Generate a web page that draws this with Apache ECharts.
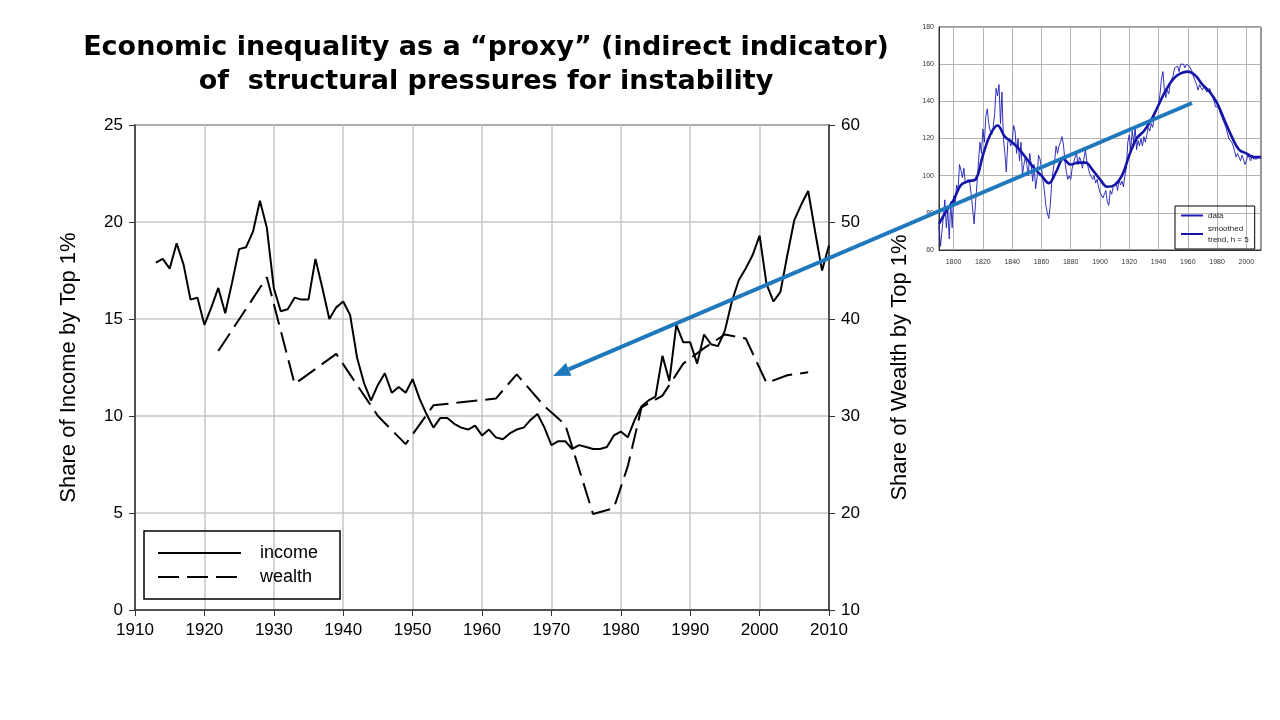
<!DOCTYPE html>
<html>
<head>
<meta charset="utf-8">
<title>Economic inequality</title>
<script src="https://cdn.jsdelivr.net/npm/echarts@6/dist/echarts.min.js"></script>
<style>
  html, body { margin: 0; padding: 0; background: #fff; }
  #chart { width: 1280px; height: 720px; }
</style>
</head>
<body>
<div id="chart"></div>
<script>
// main chart: share of income / wealth held by top 1%
const incomeYears = [
  1913, 1914, 1915, 1916, 1917, 1918, 1919, 1920, 1921, 1922, 1923, 1924, 1925, 1926, 1927, 1928, 1929,
  1930, 1931, 1932, 1933, 1934, 1935, 1936, 1937, 1938, 1939, 1940, 1941, 1942, 1943, 1944, 1945, 1946,
  1947, 1948, 1949, 1950, 1951, 1952, 1953, 1954, 1955, 1956, 1957, 1958, 1959, 1960, 1961, 1962, 1963,
  1964, 1965, 1966, 1967, 1968, 1969, 1970, 1971, 1972, 1973, 1974, 1975, 1976, 1977, 1978, 1979, 1980,
  1981, 1982, 1983, 1984, 1985, 1986, 1987, 1988, 1989, 1990, 1991, 1992, 1993, 1994, 1995, 1996, 1997,
  1998, 1999, 2000, 2001, 2002, 2003, 2004, 2005, 2006, 2007, 2008, 2009, 2010
];
const incomeShare = [
  17.9, 18.1, 17.6, 18.9, 17.8, 16.0, 16.1, 14.7, 15.6, 16.6, 15.3, 16.9, 18.6, 18.7, 19.5, 21.1, 19.7,
  16.6, 15.4, 15.5, 16.1, 16.0, 16.0, 18.1, 16.6, 15.0, 15.6, 15.9, 15.2, 13.0, 11.7, 10.8, 11.6, 12.2,
  11.2, 11.5, 11.2, 11.9, 10.9, 10.1, 9.4, 9.9, 9.9, 9.6, 9.4, 9.3, 9.5, 9.0, 9.3, 8.9, 8.8,
  9.1, 9.3, 9.4, 9.8, 10.1, 9.4, 8.5, 8.7, 8.7, 8.3, 8.5, 8.4, 8.3, 8.3, 8.4, 9.0, 9.2,
  8.9, 9.8, 10.5, 10.8, 11.0, 13.1, 11.8, 14.7, 13.8, 13.8, 12.7, 14.2, 13.7, 13.6, 14.4, 15.9, 17.0,
  17.6, 18.3, 19.3, 16.8, 15.9, 16.4, 18.3, 20.1, 20.9, 21.6, 19.5, 17.5, 18.8
];
const wealthYears = [
  1922, 1929, 1933, 1939, 1945, 1949, 1953, 1962, 1965, 1969, 1972, 1976,
  1979, 1981, 1983, 1986, 1989, 1992, 1995, 1998, 2001, 2004, 2007
];
const wealthShare = [
  36.7, 44.3, 33.3, 36.4, 30.0, 27.1, 31.1, 31.8, 34.3, 31.0, 29.1, 19.9,
  20.5, 24.8, 30.9, 32.1, 35.4, 37.0, 38.4, 38.0, 33.4, 34.2, 34.5
];

// inset chart
const insetStart = 1790;
const insetData = [
  73, 62, 61, 78, 87, 72, 82, 66, 86, 72,
  89, 84, 95, 92, 106, 103, 99, 104, 96, 97,
  98, 96, 90, 82, 74, 86, 96, 108, 118, 112,
  125, 118, 132, 136, 128, 124, 122, 126, 133, 147,
  143, 149, 128, 145, 120, 112, 102, 118, 120, 116,
  118, 127, 124, 112, 120, 108, 118, 100, 106, 110,
  106, 100, 112, 106, 97, 106, 93, 99, 111, 109,
  104, 98, 92, 84, 80, 77, 84, 96, 103, 108,
  116, 112, 116, 118, 121, 117, 108, 102, 98, 100,
  98, 104, 107, 110, 112, 106, 110, 108, 104, 109,
  114, 108, 104, 101, 100, 98, 100, 96, 98, 94,
  91, 92, 88, 90, 92, 86, 84, 92, 90, 94,
  93, 96, 92, 98, 95, 97, 94, 100, 104, 118,
  122, 114, 124, 118, 126, 114, 119, 116, 120, 116,
  121, 118, 122, 126, 124, 128, 126, 132, 134, 136,
  138, 144, 152, 156, 146, 142, 146, 144, 150, 151,
  154, 158, 157, 159, 156, 160, 159, 160, 158, 160,
  161, 159, 160, 156, 153, 152, 149, 146, 149, 148,
  146, 148, 147, 145, 146, 147, 144, 142, 140, 137,
  138, 137, 134, 132, 130, 128, 126, 123, 120, 119,
  118, 116, 113, 110, 112, 110, 108, 111, 109, 106,
  108, 111, 110, 108, 111, 109, 110, 109, 110, 110, 109
];
const trendYears = [
  1790, 1795, 1800, 1805, 1810, 1815, 1820, 1825, 1830, 1835, 1840, 1845, 1850, 1855, 1860,
  1865, 1870, 1875, 1880, 1885, 1890, 1895, 1900, 1905, 1910, 1915, 1920, 1925, 1930, 1935,
  1940, 1945, 1950, 1955, 1960, 1965, 1970, 1975, 1980, 1985, 1990, 1995, 2000, 2005, 2010
];
const trendValues = [
  74, 81, 87, 95, 97, 98, 111, 122, 127, 121, 118, 114, 109, 104, 100,
  96, 102, 109, 106, 107, 107, 103, 98, 94, 95, 100, 111, 120, 124, 130,
  138, 146, 152, 155, 156, 154, 149, 145, 139, 130, 121, 114, 112, 110, 110
];

const pairs = (xs, ys) => xs.map((x, i) => [x, ys[i]]);

// arrow from the inset trend line down into the main chart
const arrowFrom = [1192, 103];
const arrowTip = [553, 376];
const arrowHead = (function () {
  const dx = arrowTip[0] - arrowFrom[0], dy = arrowTip[1] - arrowFrom[1];
  const len = Math.sqrt(dx * dx + dy * dy);
  const ux = dx / len, uy = dy / len;
  const bx = arrowTip[0] - 17 * ux, by = arrowTip[1] - 17 * uy;
  return {
    base: [bx, by],
    points: [arrowTip, [bx - 7 * uy, by + 7 * ux], [bx + 7 * uy, by - 7 * ux]]
  };
})();

const mainFont = 'Arial, "Liberation Sans", sans-serif';
const chart = echarts.init(document.getElementById('chart'));

const option = {
  backgroundColor: '#fff',
  animation: false,
  title: {
    text: 'Economic inequality as a \u201cproxy\u201d (indirect indicator)\nof  structural pressures for instability',
    left: 481,
    top: 26,
    textAlign: 'center',
    textStyle: {
      fontFamily: '"DejaVu Sans", Verdana, sans-serif',
      fontWeight: 'bold',
      fontSize: 27,
      lineHeight: 34,
      color: '#000'
    }
  },
  legend: [
    {
      data: ['income', 'wealth'],
      orient: 'vertical',
      left: 144,
      top: 531,
      padding: [13, 22, 13, 13],
      itemWidth: 83,
      itemHeight: 14,
      itemGap: 6,
      itemStyle: { opacity: 0 },
      borderColor: '#000',
      borderWidth: 1.5,
      borderRadius: 0,
      textStyle: { fontFamily: mainFont, fontSize: 18, color: '#000', padding: [0, 0, 0, 14] }
    },
    {
      data: ['data', 'smoothed trend, h = 5'],
      orient: 'vertical',
      left: 1175,
      top: 206,
      padding: [4, 6, 4, 5],
      itemWidth: 22,
      itemHeight: 8,
      itemGap: 2,
      itemStyle: { opacity: 0 },
      borderColor: '#000',
      borderWidth: 1,
      borderRadius: 0,
      formatter: (name) => name.replace('smoothed ', 'smoothed\n'),
      textStyle: { fontFamily: mainFont, fontSize: 8, lineHeight: 11, color: '#222' }
    }
  ],
  grid: [
    { left: 135, top: 125, width: 694, height: 485, show: true, borderColor: '#333', borderWidth: 1.5 },
    { left: 939, top: 27, width: 322, height: 223, show: true, borderColor: '#333', borderWidth: 1 }
  ],
  xAxis: [
    {
      type: 'value', gridIndex: 0, min: 1910, max: 2010, interval: 10,
      axisLine: { lineStyle: { color: '#333', width: 1.5 } },
      axisTick: { show: true, length: 6, lineStyle: { color: '#333' } },
      axisLabel: { fontFamily: mainFont, fontSize: 17, color: '#000', margin: 12, formatter: (v) => String(v) },
      splitLine: { lineStyle: { color: '#c6c6c6', width: 1.5 } }
    },
    {
      type: 'value', gridIndex: 1, min: 1790, max: 2010, interval: 10,
      axisLine: { lineStyle: { color: '#333', width: 1 } },
      axisTick: { show: false },
      axisLabel: {
        fontFamily: mainFont, fontSize: 7, color: '#333', margin: 9,
        formatter: (v) => (v % 20 === 0 && v < 2010 ? String(v) : '')
      },
      splitLine: { lineStyle: { color: ['transparent', '#b4b4b4'], width: 1 } }
    }
  ],
  yAxis: [
    {
      type: 'value', gridIndex: 0, min: 0, max: 25, interval: 5,
      name: 'Share of Income by Top 1%', nameLocation: 'middle', nameGap: 55,
      nameTextStyle: { fontFamily: mainFont, fontSize: 22, color: '#000' },
      axisLine: { show: true, lineStyle: { color: '#333', width: 1.5 } },
      axisTick: { show: true, length: 6, lineStyle: { color: '#333' } },
      axisLabel: { fontFamily: mainFont, fontSize: 17, color: '#000', margin: 12 },
      splitLine: { lineStyle: { color: '#c6c6c6', width: 1.5 } }
    },
    {
      type: 'value', gridIndex: 0, position: 'right', min: 10, max: 60, interval: 10,
      name: 'Share of Wealth by Top 1%', nameLocation: 'middle', nameGap: 60, nameRotate: 90,
      nameTextStyle: { fontFamily: mainFont, fontSize: 22, color: '#000' },
      axisLine: { show: true, lineStyle: { color: '#333', width: 1.5 } },
      axisTick: { show: true, length: 6, lineStyle: { color: '#333' } },
      axisLabel: { fontFamily: mainFont, fontSize: 17, color: '#000', margin: 12 },
      splitLine: { show: false }
    },
    {
      type: 'value', gridIndex: 1, min: 60, max: 180, interval: 20,
      axisLine: { show: true, lineStyle: { color: '#333', width: 1 } },
      axisTick: { show: false },
      axisLabel: { fontFamily: mainFont, fontSize: 7, color: '#333', margin: 5 },
      splitLine: { lineStyle: { color: '#b4b4b4', width: 1 } }
    }
  ],
  series: [
    {
      name: 'income', type: 'line', xAxisIndex: 0, yAxisIndex: 0,
      data: pairs(incomeYears, incomeShare),
      symbol: 'none',
      itemStyle: { color: '#000' },
      lineStyle: { color: '#000', width: 2 }
    },
    {
      name: 'wealth', type: 'line', xAxisIndex: 0, yAxisIndex: 1,
      data: pairs(wealthYears, wealthShare),
      symbol: 'none',
      itemStyle: { color: '#000' },
      lineStyle: { color: '#000', width: 2, type: [21, 8] }
    },
    {
      name: 'data', type: 'line', xAxisIndex: 1, yAxisIndex: 2,
      data: insetData.map((v, i) => [insetStart + i, v]),
      symbol: 'none',
      itemStyle: { color: '#1c1cb4' },
      lineStyle: { color: '#1c1cb4', width: 0.9 }
    },
    {
      name: 'smoothed trend, h = 5', type: 'line', xAxisIndex: 1, yAxisIndex: 2,
      data: pairs(trendYears, trendValues),
      symbol: 'none', smooth: 0.4,
      itemStyle: { color: '#1414a6' },
      lineStyle: { color: '#1414a6', width: 2.6 }
    }
  ],
  graphic: [
    {
      type: 'line', z: 100,
      shape: { x1: arrowFrom[0], y1: arrowFrom[1], x2: arrowHead.base[0], y2: arrowHead.base[1] },
      style: { stroke: '#1f78bc', lineWidth: 4 }
    },
    {
      type: 'polygon', z: 100,
      shape: { points: arrowHead.points },
      style: { fill: '#1f78bc' }
    }
  ]
};

chart.setOption(option);
</script>
</body>
</html>
